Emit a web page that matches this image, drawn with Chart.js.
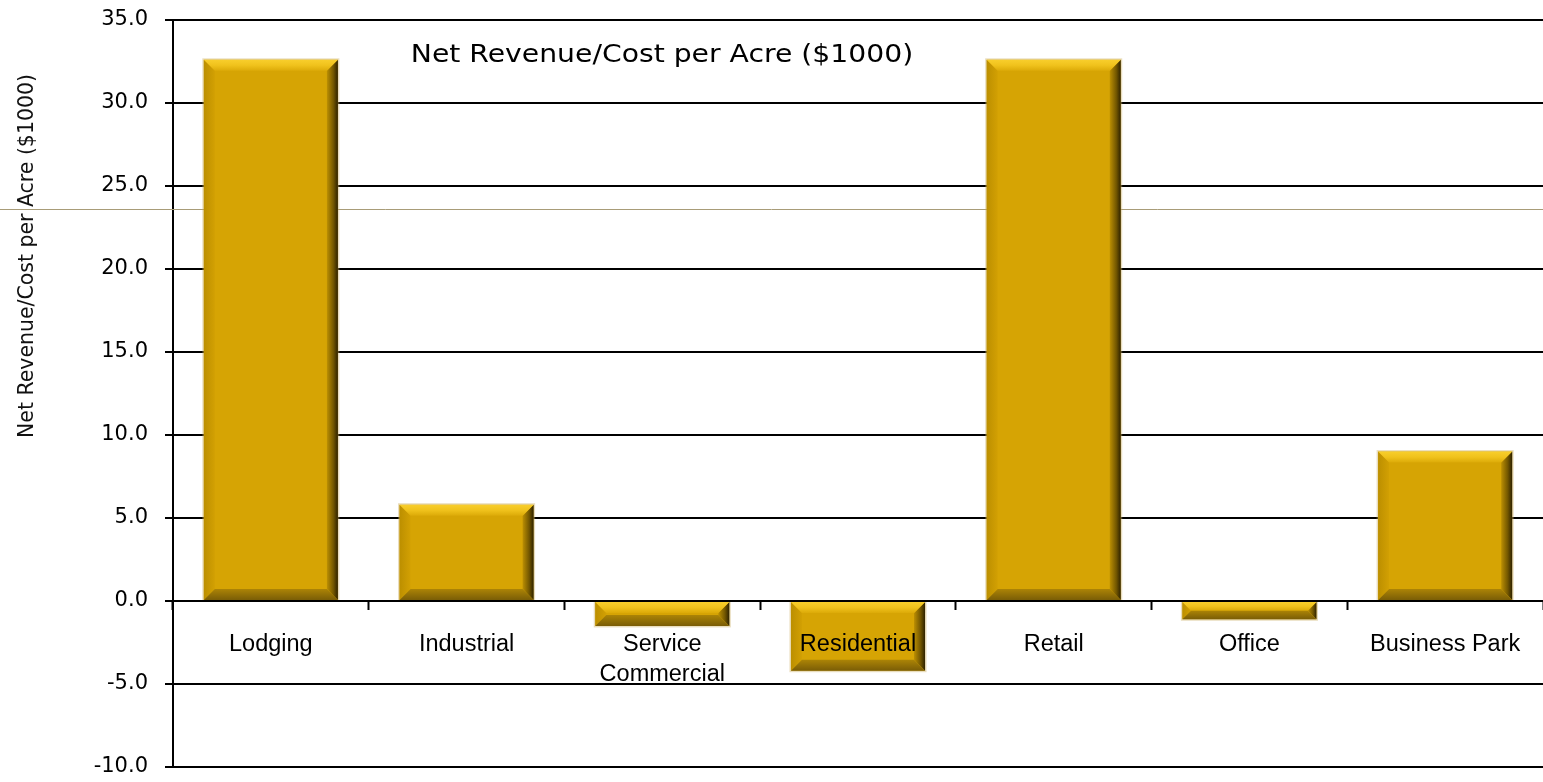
<!DOCTYPE html>
<html>
<head>
<meta charset="utf-8">
<title>Net Revenue/Cost per Acre</title>
<script src="https://cdn.jsdelivr.net/npm/chart.js@4.4.1/dist/chart.umd.min.js"></script>
<style>
  html, body { margin: 0; padding: 0; background: #fff; }
  #wrap { width: 1543px; height: 782px; }
</style>
</head>
<body>
<div id="wrap"><canvas id="netChart"></canvas></div>
<script>
// land use categories and net revenue/cost per acre, in $1000
const landUses = ['Lodging', 'Industrial', ['Service', 'Commercial'], 'Residential', 'Retail', 'Office', 'Business Park'];
const netPerAcre = [32.6, 5.8, -1.5, -4.2, 32.6, -1.1, 9.0];

// value axis range
const yMin = -10;
const yMax = 35;
const yStep = 5;

// thin reference rule across the whole chart
const refValue = 23.6;

const chartTitle = 'Net Revenue/Cost per Acre ($1000)';
const yTitle = 'Net Revenue/Cost per Acre ($1000)';

const FONT = "'DejaVu Sans', Verdana, sans-serif";
const LABEL_FONT = "'Liberation Sans', Arial, sans-serif";
const GOLD = '#D6A404';

// bevelled look on top of the flat bars
const bevelBars = {
  id: 'bevelBars',
  afterDatasetsDraw(chart) {
    const ctx = chart.ctx;
    chart.getDatasetMeta(0).data.forEach(bar => {
      const p = bar.getProps(['x', 'y', 'base', 'width'], true);
      const l = p.x - p.width / 2, r = p.x + p.width / 2;
      const t = Math.min(p.y, p.base), b = Math.max(p.y, p.base);
      const h = b - t;
      const s = Math.min(11, h / 2, p.width / 2);

      ctx.save();
      // soft outline
      ctx.strokeStyle = 'rgba(200,170,90,0.4)';
      ctx.lineWidth = 2;
      ctx.strokeRect(l - 0.5, t - 0.5, p.width + 1, h + 1);

      // left band
      let g = ctx.createLinearGradient(l, 0, l + s, 0);
      g.addColorStop(0, '#BC8F00');
      g.addColorStop(1, '#D2A003');
      ctx.fillStyle = g;
      ctx.beginPath();
      ctx.moveTo(l, t); ctx.lineTo(l + s, t + s); ctx.lineTo(l + s, b - s); ctx.lineTo(l, b);
      ctx.closePath(); ctx.fill();

      // right band
      g = ctx.createLinearGradient(r - s, 0, r, 0);
      g.addColorStop(0, '#BC8F02');
      g.addColorStop(0.6, '#725600');
      g.addColorStop(1, '#2E2200');
      ctx.fillStyle = g;
      ctx.beginPath();
      ctx.moveTo(r, t); ctx.lineTo(r - s, t + s); ctx.lineTo(r - s, b - s); ctx.lineTo(r, b);
      ctx.closePath(); ctx.fill();

      // top band
      g = ctx.createLinearGradient(0, t, 0, t + s);
      g.addColorStop(0, '#F8CE2C');
      g.addColorStop(0.5, '#F0C21C');
      g.addColorStop(1, '#DCAA08');
      ctx.fillStyle = g;
      ctx.beginPath();
      ctx.moveTo(l, t); ctx.lineTo(r, t); ctx.lineTo(r - s, t + s); ctx.lineTo(l + s, t + s);
      ctx.closePath(); ctx.fill();

      // bottom band
      g = ctx.createLinearGradient(0, b - s, 0, b);
      g.addColorStop(0, '#AC8406');
      g.addColorStop(1, '#7A5D06');
      ctx.fillStyle = g;
      ctx.beginPath();
      ctx.moveTo(l, b); ctx.lineTo(r, b); ctx.lineTo(r - s, b - s); ctx.lineTo(l + s, b - s);
      ctx.closePath(); ctx.fill();
      ctx.restore();
    });
  }
};

// reference rule, drawn under the bars
const refRule = {
  id: 'refRule',
  beforeDatasetsDraw(chart) {
    const ctx = chart.ctx;
    const y = Math.round(chart.scales.y.getPixelForValue(refValue)) + 0.5;
    ctx.save();
    ctx.strokeStyle = '#A89C78';
    ctx.lineWidth = 1;
    ctx.beginPath();
    ctx.moveTo(0, y);
    ctx.lineTo(chart.width, y);
    ctx.stroke();
    ctx.restore();
  }
};

// in-plot title and the rotated axis caption
const captions = {
  id: 'captions',
  afterDraw(chart) {
    const ctx = chart.ctx;
    ctx.save();
    ctx.fillStyle = '#000';
    ctx.textAlign = 'center';
    ctx.textBaseline = 'alphabetic';
    ctx.save();
    ctx.translate(662, 62);
    ctx.scale(1.13, 1);
    ctx.font = '25px ' + FONT;
    ctx.fillText(chartTitle, 0, 0);
    ctx.restore();

    ctx.translate(33, 256);
    ctx.rotate(-Math.PI / 2);
    ctx.scale(0.93, 1);
    ctx.font = '22px ' + FONT;
    ctx.fillStyle = '#111';
    ctx.fillText(yTitle, 0, 0);
    ctx.restore();
  }
};

new Chart(document.getElementById('netChart'), {
  type: 'bar',
  data: {
    labels: landUses,
    datasets: [{
      data: netPerAcre,
      backgroundColor: GOLD,
      borderWidth: 0,
      barPercentage: 0.685,
      categoryPercentage: 1
    }]
  },
  options: {
    responsive: true,
    maintainAspectRatio: false,
    animation: false,
    events: [],
    layout: { padding: 0 },
    plugins: {
      legend: { display: false },
      tooltip: { enabled: false }
    },
    scales: {
      x: {
        position: { y: 0 },
        afterFit(scale) {
          scale.paddingLeft = 0;
          scale.paddingRight = 0;
        },
        grid: {
          display: true,
          drawOnChartArea: false,
          drawTicks: true,
          tickLength: 8,
          tickWidth: 2,
          tickColor: '#000',
          offset: true,
          z: 1
        },
        border: { display: true, color: '#000', width: 2, z: 1 },
        ticks: {
          z: 1,
          color: '#000',
          font: { family: LABEL_FONT, size: 23.5, lineHeight: 1.28 },
          padding: 20,
          maxRotation: 0,
          autoSkip: false
        }
      },
      y: {
        min: yMin,
        max: yMax,
        afterFit(scale) {
          scale.width = 173;
          scale.paddingTop = 20;
          scale.paddingBottom = 15;
        },
        grid: {
          color: '#000',
          lineWidth: 2,
          tickLength: 8,
          tickColor: '#000'
        },
        border: { display: true, color: '#000', width: 2 },
        ticks: {
          stepSize: yStep,
          color: '#000',
          padding: 17,
          font: { family: FONT, size: 21 },
          callback: v => v.toFixed(1)
        }
      }
    }
  },
  plugins: [refRule, bevelBars, captions]
});
</script>
</body>
</html>
